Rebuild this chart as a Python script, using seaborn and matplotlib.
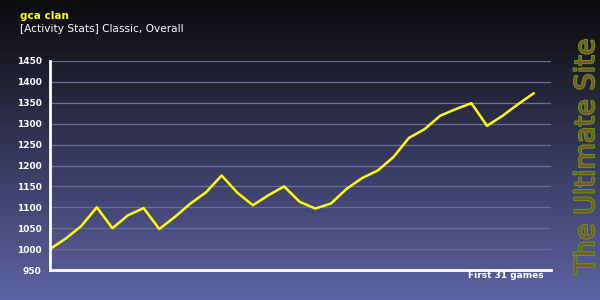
import numpy as np
import pandas as pd
import matplotlib
matplotlib.use("Agg")
import matplotlib.pyplot as plt
import matplotlib.patheffects as pe
from matplotlib.colors import LinearSegmentedColormap
import seaborn as sns

# ---- data ----
games = list(range(0, 32))
rating = [1000, 1025, 1055, 1100, 1050, 1081, 1098, 1048, 1077, 1109, 1136,
          1176, 1135, 1105, 1129, 1150, 1113, 1097, 1109, 1144, 1170, 1188,
          1220, 1266, 1287, 1319, 1335, 1349, 1295, 1319, 1347, 1373]
yticks = [950, 1000, 1050, 1100, 1150, 1200, 1250, 1300, 1350, 1400, 1450]
title = "gca clan"
subtitle = "[Activity Stats] Classic, Overall"
xlabel_txt = "First 31 games"
watermark = "The Ultimate Site"

df = pd.DataFrame({"game": games, "rating": rating})

sns.set_theme(style="white")
plt.rcParams['font.family'] = ['DejaVu Sans']

fig = plt.figure(figsize=(6, 3), dpi=100)

# background gradient
bg = fig.add_axes([0, 0, 1, 1], zorder=0)
cmap = LinearSegmentedColormap.from_list(
    "bg", [(0.0, "#0b0b0d"), (0.15, "#17171f"), (0.5, "#35375a"), (1.0, "#5e62a2")])
grad = np.linspace(0, 1, 300).reshape(-1, 1)
bg.imshow(grad, aspect="auto", cmap=cmap, extent=[0, 1, 0, 1], origin="upper")
bg.set_axis_off()

ax = fig.add_axes([50 / 600, 1 - 270 / 300, 501 / 600, 209 / 300], zorder=1)
ax.patch.set_alpha(0)
sns.lineplot(data=df, x="game", y="rating", ax=ax, color="#ffff00", linewidth=1.8)
ax.set_xlim(0, 32.1)
ax.set_ylim(950, 1450)
ax.set_yticks(yticks)
ax.set_yticklabels([str(v) for v in yticks], color="white", fontsize=6.5,
                   fontweight="bold")
ax.set_xticks([])
ax.set_xlabel("")
ax.set_ylabel("")
for v in yticks[1:]:
    ax.axhline(v, color="#6a6c99", linewidth=0.9, zorder=0)
ax.tick_params(axis="y", length=5, width=0.9, color="#6a6c99", pad=1)
for s in ["top", "right"]:
    ax.spines[s].set_visible(False)
for s in ["left", "bottom"]:
    ax.spines[s].set_color("white")
    ax.spines[s].set_linewidth(2.0)

fig.text(20 / 600, 1 - 16 / 300, title, color="#ffff00", fontsize=7.5,
         fontweight="bold", va="center", ha="left")
fig.text(20 / 600, 1 - 29 / 300, subtitle, color="white", fontsize=7.6,
         va="center", ha="left")
fig.text(544 / 600, 1 - 276 / 300, xlabel_txt, color="white", fontsize=6.5,
         fontweight="bold", va="center", ha="right")
fig.text(587 / 600, 1 - 156 / 300, watermark, color="#7e5230", fontsize=19.5,
         rotation=90, va="center", ha="center",
         path_effects=[pe.withStroke(linewidth=1.3, foreground="#5fa800")])

fig.savefig("out.png", dpi=100)
